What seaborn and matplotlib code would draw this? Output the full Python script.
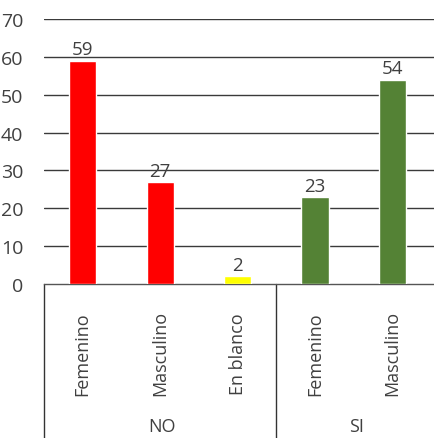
import matplotlib
matplotlib.use("Agg")
import matplotlib.pyplot as plt
import seaborn as sns
import pandas as pd

groups = ["NO", "NO", "NO", "SI", "SI"]
categories = ["Femenino", "Masculino", "En blanco", "Femenino", "Masculino"]
values = [59, 27, 2, 23, 54]
colors = ["#FF0000", "#FF0000", "#FFFF00", "#548235", "#548235"]

sns.set_theme(style="white")
plt.rcParams["font.family"] = ["Open Sans", "DejaVu Sans"]

keys = [f"{g}|{c}" for g, c in zip(groups, categories)]
df = pd.DataFrame({"key": keys, "value": values})

fig = plt.figure(figsize=(4.35, 4.39), dpi=100)
ax = fig.add_axes([44 / 435, 154 / 439, 1 - 44 / 435, 265 / 439])

sns.barplot(data=df, x="key", y="value", hue="key", palette=colors,
            order=keys, hue_order=keys, width=0.35, legend=False,
            saturation=1, ax=ax, zorder=3)

text_color = "#404040"
ax.set_ylim(0, 70)
ax.set_xlim(-0.5, len(keys) - 0.45)
ax.set_yticks(range(0, 71, 10))
ax.set_yticklabels([str(v) for v in range(0, 71, 10)], fontsize=14, color=text_color)
for yv in range(10, 71, 10):
    ax.axhline(yv, color="#3a3a3a", lw=1.0, zorder=1)
ax.tick_params(axis="y", length=0, pad=15)
ax.set_xticks([])
ax.set_xlabel("")
ax.set_ylabel("")
for s in ["top", "right", "left"]:
    ax.spines[s].set_visible(False)
ax.spines["bottom"].set_color("#555555")
ax.spines["bottom"].set_linewidth(1.0)

# value labels above each bar
for i, v in enumerate(values):
    ax.text(i, v + 0.6, f"{v}", ha="center", va="bottom",
            fontsize=13.5, color=text_color)

# category labels (rotated) and group labels below the axis
trans = ax.get_xaxis_transform()
for i, c in enumerate(categories):
    ax.text(i, -0.26, c, rotation=90, ha="center", va="center",
            fontsize=13, color=text_color, transform=trans, clip_on=False)

group_names = []
for g in groups:
    if g not in group_names:
        group_names.append(g)
for g in group_names:
    idx = [i for i, gg in enumerate(groups) if gg == g]
    ax.text((idx[0] + idx[-1]) / 2 + 0.03, -0.535, g, ha="center", va="center",
            fontsize=13, color=text_color, transform=trans, clip_on=False)

# group separators extending below the axis
for xpos in [-0.5, 2.5]:
    ax.plot([xpos, xpos], [0, -0.6], color="#333333", lw=1.0,
            transform=trans, clip_on=False)

fig.savefig("out.png", dpi=100)
